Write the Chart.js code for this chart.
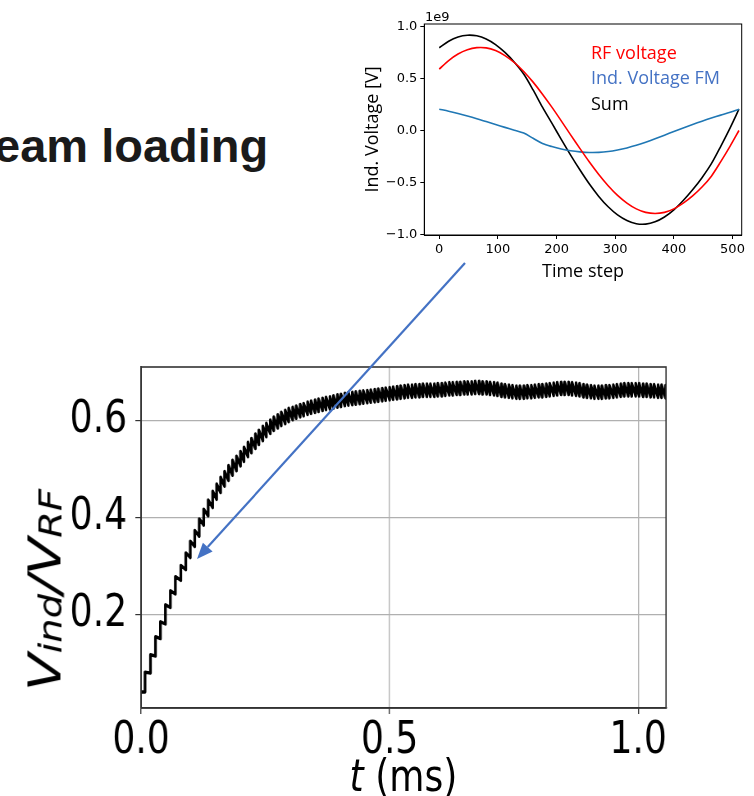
<!DOCTYPE html>
<html>
<head>
<meta charset="utf-8">
<title>Beam loading</title>
<script src="https://cdn.jsdelivr.net/npm/chart.js@4.4.1/dist/chart.umd.min.js"></script>
<style>
  html, body { margin: 0; padding: 0; background: #fff; }
  body { position: relative; width: 754px; height: 796px; overflow: hidden; }
  .abs { position: absolute; white-space: nowrap; }
  #title { left: -6px; top: 122px; font: bold 47px "Liberation Sans", Arial, sans-serif; line-height: 48px; color: #1a1a1a; }
  #inset-wrap { left: 355px; top: 0; }
  .legend-txt { left: 591px; font: 18px "Open Sans", sans-serif; line-height: 20px; }
  #offset-txt { left: 425px; top: 9px; font: 13px "DejaVu Sans", sans-serif; color: #000; }
  /* the main figure was pasted into the slide squeezed horizontally */
  #main-wrap { left: 0; top: 321px; width: 920px; height: 475px; transform: scaleX(0.82); transform-origin: 0 0; }
  #ylab { left: 55px; top: 269px; transform: translate(-50%, -50%) rotate(-90deg); font: italic 55px "DejaVu Sans", sans-serif; line-height: 55px; }
  #ylab sub { font-size: 0.7em; vertical-align: -0.04em; line-height: 0; }
  #xlab { left: 492px; top: 454px; transform: translate(-50%, -50%); font: 44px "DejaVu Sans", sans-serif; }
  #arrow { left: 0; top: 0; }
</style>
</head>
<body>
<div id="title" class="abs">eam loading</div>

<div id="inset-wrap" class="abs"><canvas id="inset" width="399" height="290"></canvas></div>
<div id="offset-txt" class="abs">1e9</div>
<div class="abs legend-txt" style="top:42px;color:#ff0000;">RF voltage</div>
<div class="abs legend-txt" style="top:67px;color:#4472c4;">Ind. Voltage FM</div>
<div class="abs legend-txt" style="top:93px;color:#000;">Sum</div>

<div id="main-wrap" class="abs">
  <canvas id="main" width="920" height="475"></canvas>
  <div id="ylab" class="abs">V<sub>ind</sub>/V<sub>RF</sub></div>
  <div id="xlab" class="abs"><i>t</i> (ms)</div>
</div>

<svg id="arrow" class="abs" width="754" height="796">
  <line x1="465" y1="263" x2="207.7" y2="547.1" stroke="#4472c4" stroke-width="2.2"/>
  <polygon points="197,559 212.6,551.5 202.9,542.7" fill="#4472c4"/>
</svg>

<script>
// ---- inset: induced voltage over one RF period (units of 1e9 V) ----
const stepX = [0, 16, 32, 48, 64, 80, 96, 112, 128, 144, 160, 176, 192, 208, 224, 240,
  256, 272, 288, 304, 320, 336, 352, 368, 384, 400, 416, 432, 448, 464, 480, 496, 511];
const rfVolt = [0.592, 0.674, 0.737, 0.778, 0.798, 0.796, 0.770, 0.722, 0.655, 0.569, 0.466,
  0.350, 0.225, 0.093, -0.042, -0.175, -0.304, -0.424, -0.532, -0.625, -0.699, -0.755,
  -0.789, -0.800, -0.789, -0.755, -0.700, -0.630, -0.545, -0.440, -0.300, -0.150, 0.000];
const fmVolt = [0.205, 0.186, 0.164, 0.140, 0.114, 0.086, 0.058, 0.030, 0.003, -0.025, -0.075,
  -0.125, -0.155, -0.178, -0.195, -0.206, -0.212, -0.211, -0.203, -0.188, -0.168, -0.143,
  -0.113, -0.080, -0.045, -0.010, 0.025, 0.058, 0.090, 0.120, 0.148, 0.176, 0.205];
const sumVolt = [0.797, 0.860, 0.901, 0.918, 0.912, 0.882, 0.828, 0.752, 0.658, 0.544, 0.391,
  0.225, 0.070, -0.085, -0.237, -0.381, -0.516, -0.635, -0.735, -0.813, -0.867, -0.898,
  -0.902, -0.880, -0.834, -0.765, -0.675, -0.572, -0.455, -0.320, -0.152, 0.026, 0.205];
const insetXTicks = [0, 100, 200, 300, 400, 500];
const insetYTicks = [-1.0, -0.5, 0.0, 0.5, 1.0];

// ---- main: V_ind / V_RF vs time, one jump per bunch passage ----
const startT = 0;
const startV = 0.041;
const toothT = [0.008, 0.019, 0.029, 0.039, 0.049, 0.059, 0.069, 0.080, 0.090, 0.099,
  0.108, 0.117, 0.126, 0.135, 0.144, 0.152, 0.160, 0.168, 0.176, 0.184,
  0.192, 0.200, 0.207, 0.215, 0.222, 0.230, 0.237, 0.245, 0.252, 0.260,
  0.267, 0.275, 0.282, 0.290, 0.297, 0.305, 0.312, 0.320, 0.327, 0.335,
  0.342, 0.350, 0.357, 0.365, 0.372, 0.380, 0.387, 0.395, 0.402, 0.410,
  0.417, 0.425, 0.432, 0.440, 0.447, 0.455, 0.462, 0.470, 0.477, 0.485,
  0.492, 0.500, 0.507, 0.515, 0.522, 0.530, 0.537, 0.545, 0.552, 0.560,
  0.567, 0.575, 0.582, 0.590, 0.597, 0.605, 0.612, 0.620, 0.627, 0.635,
  0.642, 0.650, 0.657, 0.665, 0.672, 0.680, 0.687, 0.695, 0.702, 0.710,
  0.717, 0.725, 0.732, 0.740, 0.747, 0.755, 0.762, 0.770, 0.777, 0.785,
  0.792, 0.800, 0.807, 0.815, 0.822, 0.830, 0.837, 0.845, 0.852, 0.860,
  0.867, 0.875, 0.882, 0.890, 0.897, 0.905, 0.912, 0.920, 0.927, 0.935,
  0.942, 0.950, 0.957, 0.965, 0.972, 0.980, 0.987, 0.995, 1.002, 1.010,
  1.017, 1.025, 1.032, 1.040, 1.047, 1.055, 1.062];
const toothLo = [0.041, 0.080, 0.115, 0.151, 0.181, 0.215, 0.243, 0.271, 0.293, 0.318,
  0.341, 0.362, 0.385, 0.404, 0.421, 0.438, 0.452, 0.465, 0.477, 0.488,
  0.497, 0.507, 0.516, 0.526, 0.534, 0.543, 0.551, 0.559, 0.567, 0.574,
  0.580, 0.585, 0.590, 0.594, 0.598, 0.602, 0.605, 0.608, 0.610, 0.613,
  0.615, 0.617, 0.619, 0.621, 0.623, 0.624, 0.626, 0.628, 0.629, 0.631,
  0.632, 0.633, 0.634, 0.635, 0.636, 0.637, 0.638, 0.639, 0.640, 0.641,
  0.642, 0.643, 0.644, 0.645, 0.646, 0.647, 0.648, 0.648, 0.649, 0.649,
  0.650, 0.650, 0.650, 0.650, 0.651, 0.651, 0.652, 0.653, 0.653, 0.654,
  0.654, 0.655, 0.655, 0.655, 0.656, 0.656, 0.655, 0.655, 0.654, 0.653,
  0.652, 0.650, 0.649, 0.648, 0.647, 0.646, 0.646, 0.646, 0.647, 0.647,
  0.648, 0.649, 0.649, 0.650, 0.651, 0.652, 0.653, 0.654, 0.654, 0.654,
  0.653, 0.652, 0.651, 0.649, 0.648, 0.647, 0.646, 0.646, 0.646, 0.647,
  0.647, 0.648, 0.649, 0.650, 0.651, 0.651, 0.651, 0.651, 0.651, 0.650,
  0.650, 0.649, 0.649, 0.648, 0.648, 0.647, 0.647];
const toothHi = [0.082, 0.118, 0.155, 0.186, 0.221, 0.250, 0.279, 0.302, 0.328, 0.352,
  0.374, 0.398, 0.418, 0.437, 0.455, 0.470, 0.484, 0.496, 0.508, 0.519,
  0.527, 0.537, 0.546, 0.556, 0.564, 0.573, 0.581, 0.589, 0.595, 0.602,
  0.608, 0.613, 0.618, 0.622, 0.626, 0.628, 0.631, 0.634, 0.636, 0.639,
  0.641, 0.643, 0.645, 0.647, 0.649, 0.650, 0.652, 0.654, 0.655, 0.657,
  0.658, 0.659, 0.660, 0.661, 0.662, 0.663, 0.664, 0.665, 0.666, 0.667,
  0.668, 0.669, 0.670, 0.671, 0.672, 0.673, 0.674, 0.674, 0.675, 0.675,
  0.676, 0.676, 0.676, 0.676, 0.677, 0.677, 0.678, 0.679, 0.679, 0.680,
  0.680, 0.681, 0.681, 0.681, 0.682, 0.682, 0.681, 0.681, 0.680, 0.679,
  0.678, 0.676, 0.675, 0.674, 0.673, 0.672, 0.672, 0.672, 0.673, 0.673,
  0.674, 0.675, 0.675, 0.676, 0.677, 0.678, 0.679, 0.680, 0.680, 0.680,
  0.679, 0.678, 0.677, 0.675, 0.674, 0.673, 0.672, 0.672, 0.672, 0.673,
  0.673, 0.674, 0.675, 0.676, 0.677, 0.677, 0.677, 0.677, 0.677, 0.676,
  0.676, 0.675, 0.675, 0.674, 0.674, 0.673, 0.673];
const mainXTicks = [0.0, 0.5, 1.0];
const mainYTicks = [0.2, 0.4, 0.6];

Chart.defaults.font.family = "DejaVu Sans";
Chart.defaults.color = "#000";

// draws the full axes frame (top and right spines too)
function framePlugin(color, width) {
    return {
        id: "frame",
        afterDatasetsDraw(chart) {
            const a = chart.chartArea;
            const ctx = chart.ctx;
            ctx.save();
            ctx.strokeStyle = color;
            ctx.lineWidth = width;
            ctx.strokeRect(a.left, a.top, a.right - a.left, a.bottom - a.top);
            ctx.restore();
        }
    };
}

function minusFmt(v) {
    return (v < 0 ? "\u2212" : "") + Math.abs(v).toFixed(1);
}

function pts(xs, ys) {
    return xs.map(function (x, i) { return { x: x, y: ys[i] }; });
}

// ---------- inset ----------
new Chart(document.getElementById("inset"), {
    type: "line",
    data: {
        datasets: [
            { label: "RF voltage", data: pts(stepX, rfVolt), borderColor: "#ff0000", borderWidth: 1.6, pointRadius: 0, tension: 0.3 },
            { label: "Ind. Voltage FM", data: pts(stepX, fmVolt), borderColor: "#1f77b4", borderWidth: 1.6, pointRadius: 0, tension: 0.3 },
            { label: "Sum", data: pts(stepX, sumVolt), borderColor: "#000000", borderWidth: 1.6, pointRadius: 0, tension: 0.3 }
        ]
    },
    options: {
        responsive: false,
        animation: false,
        layout: { padding: { left: 0, top: 24, right: 12.3, bottom: 0 } },
        plugins: { legend: { display: false }, tooltip: { enabled: false } },
        scales: {
            x: {
                type: "linear", min: -25.5, max: 515.7,
                afterBuildTicks: function (s) { s.ticks = insetXTicks.map(function (v) { return { value: v }; }); },
                afterFit: function (s) { s.height = 55; },
                grid: { drawOnChartArea: false, tickLength: 4, tickColor: "#000" },
                border: { color: "#000", width: 1 },
                ticks: { font: { size: 13 }, color: "#000", padding: 3, maxRotation: 0, autoSkip: false },
                title: { display: true, text: "Time step", font: { family: "Open Sans", size: 18 }, color: "#000", padding: { top: 0, bottom: 7 } }
            },
            y: {
                type: "linear", min: -1.007, max: 1.026,
                afterBuildTicks: function (s) { s.ticks = insetYTicks.map(function (v) { return { value: v }; }); },
                afterFit: function (s) { s.width = 69.3; },
                grid: { drawOnChartArea: false, tickLength: 4, tickColor: "#000" },
                border: { color: "#000", width: 1 },
                ticks: { font: { size: 13 }, color: "#000", padding: 3, autoSkip: false, callback: minusFmt },
                title: { display: true, text: "Ind. Voltage [V]", font: { family: "Open Sans", size: 18 }, color: "#000", padding: { top: 7, bottom: 0 } }
            }
        }
    },
    plugins: [framePlugin("#000", 1)]
});

// ---------- main ----------
const mainPts = [{ x: startT, y: startV }];
toothT.forEach(function (t, i) {
    mainPts.push({ x: t, y: toothLo[i] });
    mainPts.push({ x: t, y: toothHi[i] });
});

new Chart(document.getElementById("main"), {
    type: "line",
    data: {
        datasets: [
            { label: "V_ind/V_RF", data: mainPts, borderColor: "#000", borderWidth: 3.3, pointRadius: 0, tension: 0, borderJoinStyle: "round", borderCapStyle: "round" }
        ]
    },
    options: {
        responsive: false,
        animation: false,
        layout: { padding: { left: 0, top: 46, right: 107.8, bottom: 0 } },
        plugins: { legend: { display: false }, tooltip: { enabled: false } },
        scales: {
            x: {
                type: "linear", min: 0, max: 1.056,
                afterBuildTicks: function (s) { s.ticks = mainXTicks.map(function (v) { return { value: v }; }); },
                afterFit: function (s) { s.height = 88; },
                grid: { color: "#b0b0b0", lineWidth: 1.4, tickLength: 6, tickColor: "#333" },
                border: { color: "#333", width: 1.5 },
                ticks: { font: { size: 44 }, color: "#000", padding: 1, maxRotation: 0, autoSkip: false, callback: function (v) { return v.toFixed(1); } }
            },
            y: {
                type: "linear", min: 0.008, max: 0.711,
                afterBuildTicks: function (s) { s.ticks = mainYTicks.map(function (v) { return { value: v }; }); },
                afterFit: function (s) { s.width = 172; },
                grid: { color: "#b0b0b0", lineWidth: 1.2, tickLength: 7, tickColor: "#333" },
                border: { color: "#333", width: 1.8 },
                ticks: { font: { size: 44 }, color: "#000", padding: 10, autoSkip: false, callback: function (v) { return v.toFixed(1); } }
            }
        }
    },
    plugins: [framePlugin("#333", 1.6)]
});
</script>
</body>
</html>
